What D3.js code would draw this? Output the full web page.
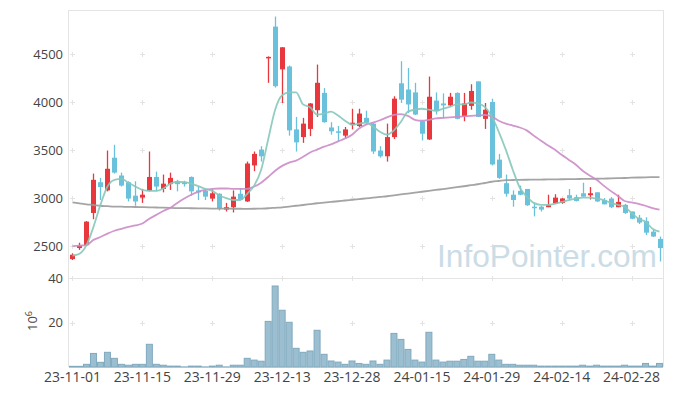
<!DOCTYPE html>
<html>
<head>
<meta charset="utf-8">
<script src="https://cdn.jsdelivr.net/npm/d3@7"></script>
<style>
  body { margin: 0; background: #fff; }
  svg { display: block; font-family: "Open Sans", "Noto Sans", sans-serif; }
</style>
</head>
<body>
<svg id="chart"></svg>
<script>
// trading days (index based x axis)
const dates = ["23-11-01","23-11-02","23-11-03","23-11-06","23-11-07","23-11-08","23-11-09","23-11-10","23-11-13","23-11-14",
  "23-11-15","23-11-16","23-11-17","23-11-20","23-11-21","23-11-22","23-11-23","23-11-24","23-11-27","23-11-28",
  "23-11-29","23-11-30","23-12-01","23-12-04","23-12-05","23-12-06","23-12-07","23-12-08","23-12-11","23-12-12",
  "23-12-13","23-12-14","23-12-15","23-12-18","23-12-19","23-12-20","23-12-21","23-12-22","23-12-26","23-12-27",
  "23-12-28","24-01-02","24-01-03","24-01-04","24-01-05","24-01-08","24-01-09","24-01-10","24-01-11","24-01-12",
  "24-01-15","24-01-16","24-01-17","24-01-18","24-01-19","24-01-22","24-01-23","24-01-24","24-01-25","24-01-26",
  "24-01-29","24-01-30","24-01-31","24-02-01","24-02-02","24-02-05","24-02-06","24-02-07","24-02-08","24-02-13",
  "24-02-14","24-02-15","24-02-16","24-02-19","24-02-20","24-02-21","24-02-22","24-02-23","24-02-26","24-02-27",
  "24-02-28","24-02-29","24-03-04","24-03-05","24-03-06"];

const opens = [2365,2480,2510,2845,3165,3080,3420,3235,3165,3025,
  3005,3075,3220,3095,3145,3175,3165,3220,3080,3075,
  2995,3045,2880,2905,3045,2965,3340,3505,4455,4785,
  4340,4370,3715,3635,3720,3915,4095,3735,3695,3650,
  3760,3750,3835,3775,3495,3435,3635,4195,4130,4100,
  3800,3610,4015,3985,3965,4095,3850,3960,4215,3825,
  4000,3400,3155,3035,3075,3095,2910,2910,2905,2945,
  2950,3030,3010,3050,3030,3060,2980,2995,2905,2930,
  2860,2795,2760,2650,2575];

const highs = [2425,2535,2760,3255,3210,3495,3555,3265,3175,3175,
  3095,3485,3275,3245,3265,3190,3180,3225,3125,3095,
  3090,3050,2950,3080,3105,3380,3485,3540,4475,4890,
  4570,4380,3845,3835,3990,4390,4145,3790,3750,3740,
  3930,3930,3910,3780,3540,3775,4060,4425,4355,4200,
  3805,4265,4100,4090,4095,4100,4095,4185,4215,3990,
  4035,3460,3245,3080,3130,3095,2950,2920,3035,3040,
  3000,3095,3035,3160,3115,3060,3000,3010,3035,2940,
  2860,2825,2800,2670,2600];

const lows = [2355,2460,2500,2780,2980,3070,3255,3120,2965,2920,
  2950,3070,3070,3060,3085,3070,3120,3025,2980,2980,
  2965,2870,2860,2850,2980,2960,3280,3380,4200,4150,
  3990,3650,3485,3575,3645,3845,3785,3660,3590,3625,
  3715,3740,3765,3460,3420,3380,3615,3990,3885,3865,
  3600,3605,3870,3830,3960,3820,3800,3920,3845,3720,
  3340,3200,3015,2910,3030,2920,2810,2860,2905,2940,
  2940,2980,2965,3015,2985,2960,2935,2895,2905,2835,
  2780,2730,2615,2595,2340];

const closes = [2410,2505,2755,3190,3115,3305,3265,3130,2995,2965,
  3035,3220,3120,3150,3210,3145,3145,3070,3060,3015,
  3050,2895,2905,3015,2980,3360,3460,3435,4470,4165,
  4570,3705,3580,3775,3985,4200,3790,3695,3690,3715,
  3785,3880,3785,3485,3435,3635,4035,4025,3975,3870,
  3670,4055,3905,3965,4055,3825,3985,4115,3845,3920,
  3350,3210,3045,2980,3035,2925,2900,2880,2925,3005,
  2995,2995,2970,3015,3050,2965,2935,2905,2960,2845,
  2785,2745,2640,2600,2480];

// volume, 10^6 shares
const volumes = [0.3,0.3,1.2,6.1,2.1,6.6,3.9,1.2,0.8,1.2,
  1.2,10.2,1.2,0.8,0.4,0.4,0.05,0.4,0.4,0.05,
  0.4,0.8,0.05,0.8,0.8,3.9,3.1,2.6,20.5,36.4,
  25.5,20.1,8.4,6.6,7.2,16.5,5.7,2.7,2.2,1.2,
  2.7,1.6,1.2,2.7,1.2,3.1,15.1,12.4,7.9,3.1,
  2.2,15.6,3.1,2.2,2.6,2.6,3.4,4.8,2.6,2.6,
  5.7,3.1,1.2,1.2,0.8,0.8,0.8,0.4,0.4,0.4,
  0.4,0.4,0.4,0.8,0.4,0.8,0.4,0.4,0.4,0.8,
  0.4,0.4,1.6,0.4,1.6];

// moving averages
const ma5 = [2400,2420,2510,2700,2930,3120,3190,3200,3160,3120,
  3085,3075,3075,3100,3150,3170,3165,3150,3125,3095,
  3075,3030,3000,2980,2980,3045,3130,3295,3610,3920,
  4070,4100,4100,3975,3945,3870,3880,3900,3860,3805,
  3765,3775,3785,3745,3690,3660,3705,3795,3900,3920,
  3930,3920,3910,3930,3950,3975,3975,3995,3985,3950,
  3850,3690,3505,3295,3110,3015,2950,2930,2930,2940,
  2960,2980,2995,3005,3005,2995,2980,2950,2930,2910,
  2845,2785,2755,2680,2650];

const ma20 = [2500,2505,2510,2565,2595,2630,2660,2680,2700,2715,
  2735,2785,2825,2865,2900,2950,2995,3035,3065,3085,
  3095,3100,3100,3095,3095,3095,3120,3160,3220,3285,
  3335,3370,3390,3430,3475,3505,3535,3560,3590,3620,
  3660,3725,3765,3785,3810,3840,3865,3875,3855,3815,
  3805,3815,3830,3835,3840,3845,3850,3855,3860,3865,
  3850,3805,3775,3755,3735,3705,3650,3600,3550,3505,
  3450,3400,3350,3285,3235,3190,3130,3075,3025,2970,
  2955,2940,2920,2895,2880];

const ma120 = [2955,2945,2935,2928,2920,2916,2912,2910,2908,2907,
  2906,2904,2902,2900,2898,2896,2895,2894,2893,2892,
  2891,2890,2890,2889,2889,2888,2889,2891,2894,2899,
  2904,2912,2920,2928,2937,2946,2953,2960,2967,2975,
  2982,2989,2997,3004,3012,3019,3028,3038,3047,3057,
  3066,3075,3085,3094,3104,3113,3123,3134,3144,3157,
  3170,3178,3186,3188,3190,3191,3192,3193,3194,3195,
  3196,3197,3198,3199,3200,3201,3203,3205,3207,3209,
  3212,3214,3216,3218,3219];

const priceTicks = [2500, 3000, 3500, 4000, 4500];
const volumeTicks = [20, 40];
const dateTicks = ["23-11-01","23-11-15","23-11-29","23-12-13","23-12-28","24-01-15","24-01-29","24-02-14","24-02-28"];

class CandleChart {

  constructor(_config) {
    this.config = {
      parentElement: _config.parentElement,
      containerWidth: _config.containerWidth || 673,
      containerHeight: _config.containerHeight || 396,
      left: 69, right: 663,
      priceTop: 10, priceBottom: 278,
      volumeBottom: 367
    }
    this.data = dates.map((d, i) => ({
      date: d, open: opens[i], high: highs[i], low: lows[i], close: closes[i], volume: volumes[i]
    }));
    this.initVis();
  }

  initVis() {
    let vis = this;
    const c = vis.config;

    vis.svg = d3.select(c.parentElement)
        .attr('width', c.containerWidth)
        .attr('height', c.containerHeight);

    vis.xScale = d3.scaleBand()
        .domain(dates)
        .range([c.left, c.right])
        .padding(0);

    vis.yScale = d3.scaleLinear()
        .domain([2168, 4958])
        .range([c.priceBottom, c.priceTop]);

    vis.vScale = d3.scaleLinear()
        .domain([0, 40])
        .range([c.volumeBottom, c.priceBottom]);

    vis.renderVis();
  }

  renderVis() {
    let vis = this;
    const c = vis.config;
    const bw = vis.xScale.bandwidth();
    const cx = d => vis.xScale(d) + bw / 2;

    // frame
    const frame = vis.svg.append('g').attr('stroke', '#e4e4e4').attr('fill', 'none');
    frame.append('line').attr('x1', c.left).attr('x2', c.right).attr('y1', c.priceTop + 0.5).attr('y2', c.priceTop + 0.5);
    frame.append('line').attr('x1', c.left).attr('x2', c.right).attr('y1', c.priceBottom + 0.5).attr('y2', c.priceBottom + 0.5);
    frame.append('line').attr('x1', c.left).attr('x2', c.right).attr('y1', c.volumeBottom + 0.5).attr('y2', c.volumeBottom + 0.5);
    frame.append('line').attr('x1', c.left - 0.5).attr('x2', c.left - 0.5).attr('y1', c.priceTop).attr('y2', c.volumeBottom);
    frame.append('line').attr('x1', c.right + 0.5).attr('x2', c.right + 0.5).attr('y1', c.priceTop).attr('y2', c.volumeBottom);

    // grid crosses
    const crosses = [];
    dateTicks.forEach(d => {
      priceTicks.forEach(p => crosses.push([cx(d), vis.yScale(p)]));
      volumeTicks.forEach(v => crosses.push([cx(d), vis.vScale(v)]));
    });
    const grid = vis.svg.append('g').attr('stroke', '#e3e3e3').attr('stroke-width', 1);
    grid.selectAll('.gh').data(crosses).join('line')
        .attr('x1', d => Math.round(d[0]) - 2).attr('x2', d => Math.round(d[0]) + 3)
        .attr('y1', d => Math.round(d[1]) + 0.5).attr('y2', d => Math.round(d[1]) + 0.5);
    grid.selectAll('.gv').data(crosses).join('line')
        .attr('x1', d => Math.round(d[0]) + 0.5).attr('x2', d => Math.round(d[0]) + 0.5)
        .attr('y1', d => Math.round(d[1]) - 2).attr('y2', d => Math.round(d[1]) + 3);

    // watermark
    vis.svg.append('text')
        .attr('x', 437).attr('y', 267)
        .attr('font-family', '"Liberation Sans", sans-serif')
        .attr('font-size', 32)
        .attr('textLength', 220)
        .attr('lengthAdjust', 'spacingAndGlyphs')
        .attr('fill', '#cbdce6')
        .text('InfoPointer.com');

    // volume bars
    vis.svg.append('g').selectAll('rect').data(vis.data).join('rect')
        .attr('x', d => vis.xScale(d.date) + 0.5)
        .attr('width', bw - 1)
        .attr('y', d => vis.vScale(d.volume))
        .attr('height', d => c.volumeBottom - vis.vScale(d.volume))
        .attr('fill', '#9bbfd1')
        .attr('stroke', '#80a9be')
        .attr('stroke-width', 1);

    // candles
    const up = '#e8383d', down = '#6ac1dc';
    const candles = vis.svg.append('g').selectAll('g').data(vis.data).join('g');
    candles.append('line')
        .attr('x1', d => Math.round(cx(d.date)) + 0.5).attr('x2', d => Math.round(cx(d.date)) + 0.5)
        .attr('y1', d => vis.yScale(d.high)).attr('y2', d => vis.yScale(d.low))
        .attr('stroke', d => d.close >= d.open ? up : down)
        .attr('stroke-width', 1.3);
    candles.append('rect')
        .attr('x', d => Math.round(cx(d.date)) - 2)
        .attr('width', 5)
        .attr('y', d => vis.yScale(Math.max(d.open, d.close)))
        .attr('height', d => Math.max(1.5, Math.abs(vis.yScale(d.open) - vis.yScale(d.close))))
        .attr('fill', d => d.close >= d.open ? up : down);

    // moving averages
    const line = d3.line()
        .x((d, i) => cx(dates[i]))
        .y(d => vis.yScale(d))
        .curve(d3.curveMonotoneX);
    [[ma120, '#9a9a9a'], [ma20, '#cc8cc8'], [ma5, '#86c8ba']].forEach(([s, col]) => {
      vis.svg.append('path')
          .attr('d', line(s))
          .attr('fill', 'none')
          .attr('stroke', col)
          .attr('stroke-width', 1.8)
          .attr('stroke-opacity', 0.9);
    });

    // axes
    const yAxis = d3.axisLeft(vis.yScale).tickValues(priceTicks).tickFormat(d3.format('d')).tickSize(0).tickPadding(6);
    const vAxis = d3.axisLeft(vis.vScale).tickValues(volumeTicks).tickFormat(d3.format('d')).tickSize(0).tickPadding(6);
    const xAxis = d3.axisBottom(vis.xScale).tickValues(dateTicks).tickSize(0).tickPadding(5);

    const yG = vis.svg.append('g').attr('transform', `translate(${c.left},0)`).call(yAxis);
    const vG = vis.svg.append('g').attr('transform', `translate(${c.left},0)`).call(vAxis);
    const xG = vis.svg.append('g').attr('transform', `translate(0,${c.volumeBottom})`).call(xAxis);
    [yG, vG, xG].forEach(g => {
      g.select('.domain').remove();
      g.selectAll('text').attr('fill', '#444').attr('font-family', '"Open Sans", sans-serif');
    });
    yG.selectAll('text').attr('font-size', 13);
    vG.selectAll('text').attr('font-size', 13);
    xG.selectAll('text').attr('font-size', 14);

    // volume unit label
    const unit = vis.svg.append('text')
        .attr('transform', 'translate(37,321) rotate(-90)')
        .attr('text-anchor', 'middle')
        .attr('font-size', 13)
        .attr('fill', '#444')
        .text('10');
    unit.append('tspan').attr('dy', -5).attr('font-size', 9).text('6');
  }
}

new CandleChart({ parentElement: '#chart' });
</script>
</body>
</html>
